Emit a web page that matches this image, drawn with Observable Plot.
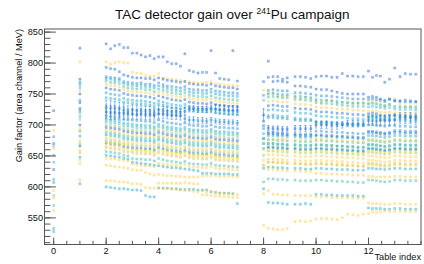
<!DOCTYPE html>
<html><head><meta charset="utf-8">
<script src="https://cdn.jsdelivr.net/npm/d3@7"></script>
<script src="https://cdn.jsdelivr.net/npm/@observablehq/plot@0.6"></script>
<style>html,body{margin:0;padding:0;background:#fff;}</style>
</head><body><div id="chart"></div>
<script>
// Table index positions
const tablesB = [2, 2.17, 2.33, 2.5, 2.67, 2.83, 3, 3.17, 3.33, 3.5, 3.67, 3.83, 4, 4.17, 4.33, 4.5, 4.67, 4.83, 5, 5.17, 5.33, 5.5, 5.67, 5.83, 6, 6.17, 6.33, 6.5, 6.67, 6.83, 7];
const tablesC = [8, 8.18, 8.36, 8.54, 8.72, 8.9, 9.2, 9.4, 9.6, 9.8, 10, 10.2, 10.4, 10.6, 10.8, 11, 11.2, 11.4, 11.6, 11.8, 12, 12.15, 12.3, 12.45, 12.62, 12.8, 13, 13.2, 13.4, 13.6, 13.8];

// gain at table 0 and table 1, one entry per detector
const gainTable0 = [null, null, null, null, 528, null, null, 723, 533, null, null, 681, null, 570, 666, 670, 691, 640, 651, 662, 586, 628, 594, null, 612, 582, null, 562, 607, null, null, null, null];
const gainTable1 = [824, 802, 774, 769, 765, 760, 755, 750, 740, 736, 727, 724, 720, 714, 709, 700, 694, 690, 682, 675, 670, 666, 659, 655, 648, 644, null, 638, 605, 611, null, null, null];

// gain over tables 2-7
const gainB = [
[831,823,828,830,825,825, 816,816,813,810,812,807, 810,810,802,799,799,795, 815,788,786,784,785,785, 820,784,775,774,773,820, 771],
[802,798,801,802,801,800, 785,784,783,780,779,779, 783,776,775,774,773,772, 771,770,769,768,768,769, 770,767,766,765,764,764, 763],
[793,791,790,786,781,779, 777,776,776,775,775,773, 776,774,772,771,770,769, 770,767,766,765,765,764, 766,763,762,761,760,760, 758],
[778,777,776,775,770,769, 768,767,768,766,766,764, 768,765,763,762,761,760, 762,758,757,757,756,756, 758,755,754,753,752,752, 751],
[775,774,772,772,767,765, 764,763,764,762,762,760, 763,761,759,757,756,755, 757,753,752,752,751,751, 753,750,749,748,747,747, 746],
[771,769,768,767,762,760, 759,758,759,757,757,754, 758,756,754,752,751,750, 752,748,747,746,746,745, 747,744,743,742,741,741, 740],
[766,764,763,762,757,755, 754,753,753,752,751,749, 753,751,749,747,746,745, 747,743,742,741,741,740, 742,739,738,737,736,736, 735],
[760,758,757,756,751,749, 748,747,747,746,745,743, 747,745,743,741,740,739, 741,737,736,735,735,734, 736,733,732,731,730,730, 729],
[752,750,749,748,743,741, 740,739,739,738,737,735, 739,737,735,733,732,731, 733,729,728,727,727,726, 728,725,724,723,722,722, 721],
[721,720,720,719,719,718, 718,717,718,717,717,716, 718,718,717,716,716,715, 722,726,726,725,725,725, 726,726,725,725,724,724, 724],
[728,727,727,726,724,722, 724,723,723,722,722,720, 724,723,722,721,721,720, 710,708,708,707,707,706, 708,706,705,705,704,704, 703],
[714,713,712,712,709,708, 708,707,707,706,706,704, 708,706,704,703,702,701, 703,700,699,699,698,698, 700,697,696,696,695,695, 694],
[709,708,707,706,703,702, 701,700,700,699,699,697, 701,699,697,696,695,694, 696,693,692,692,691,691, 693,690,689,689,688,688, 687],
[705,704,703,702,699,698, 697,696,696,695,695,693, 697,695,693,692,691,690, 692,689,688,688,687,687, 689,686,685,685,684,684, 683],
[700,699,698,697,694,693, 692,691,691,690,690,688, 692,690,688,687,686,685, 687,684,683,683,682,682, 684,681,680,680,679,679, 678],
[696,695,694,693,690,689, 688,687,687,686,686,684, 688,686,684,683,682,681, 683,680,679,679,678,678, 680,677,676,676,675,675, 674],
[692,691,690,689,686,685, 684,683,683,682,682,680, 684,682,680,679,678,677, 679,676,675,675,674,674, 676,673,672,672,671,671, 670],
[688,687,686,685,682,681, 680,679,679,678,678,676, 680,678,676,675,674,673, 675,672,671,671,670,670, 672,669,668,668,667,667, 666],
[684,683,682,681,678,677, 676,675,675,674,674,672, 676,674,672,671,670,669, 671,668,667,667,666,666, 668,665,664,664,663,663, 662],
[679,678,677,676,673,672, 671,670,670,669,669,667, 671,669,667,666,665,664, 666,663,662,662,661,661, 663,660,659,659,658,658, 657],
[675,674,673,672,669,668, 667,666,666,665,665,663, 667,665,663,662,661,660, 662,659,658,658,657,657, 659,656,655,655,654,654, 653],
[671,670,669,668,665,664, 663,662,662,661,661,659, 663,661,659,658,657,656, 658,655,654,654,653,653, 655,652,651,651,650,650, 649],
[667,666,665,664,661,660, 659,658,658,657,657,655, 659,657,655,654,653,652, 654,651,650,650,649,649, 651,648,647,647,646,646, 645],
[663,662,661,660,657,656, 655,654,654,653,653,651, 655,653,651,650,649,648, 650,647,646,646,645,645, 647,644,643,643,642,642, 641],
[651,650,649,648,646,645, 640,639,638,637,636,635, 634,633,632,631,631,630, 629,628,627,626,622,622, 622,621,621,621,621,620, 620],
[646,645,645,644,643,642, 637,636,635,634,634,633, 638,637,636,635,635,634, 636,633,632,632,631,631, 633,630,629,629,628,628, 627],
[657,656,655,654,651,650, 646,645,645,644,644,642, 646,644,642,641,640,639, 641,638,637,637,636,636, 638,635,634,634,633,633, 632],
[635,634,633,632,631,630, 628,627,627,623,621,619, 620,619,618,618,617,617, 616,616,616,616,618,618, 618,618,617,617,617,617, 616],
[600,599,598,597,597,596, 595,595,594,586,584,584, 598,598,598,597,597,596, 596,596,596,595,595,595, 592,591,590,590,590,589, 573],
[610,610,609,608,608,607, 605,605,604,599,598,598, 606,606,606,606,606,606, 607,606,605,605,594,592, 592,591,590,590,589,589, 588],
[null,null,null,null,null,null, null,null,null,null,null,null, 599,598,597,597,596,595, 594,594,593,592,587,587, 586,585,585,584,584,583, 583],
[672,671,670,669,668,667, 660,659,659,658,658,656, 661,659,657,656,655,654, 656,653,652,652,651,651, 653,650,649,649,648,648, 647],
[744,743,742,741,737,736, 735,734,734,733,732,730, 734,732,730,728,727,726, 728,724,723,722,722,721, 723,720,719,718,717,717, 716]
];

// gain over tables 8-13.8
const gainC = [
[770,777,778,778,774,776, 778,778,777,775, 778,779,779,777,777, 783,779,779,778,778, 787,777,780,779,769,774, 792,778,783,782,782],
[756,752,752,747,746,747, 745,742,745,742, 739,736,739,739,736, 736,736,736,736,736, 736,738,738,736,731,733, 742,733,731,731,731],
[null,803,770,771,770,769, 763,763,762,761, 758,757,757,755,753, 751,750,750,750,750, 745,746,745,742,738,742, 739,739,740,739,738],
[748,756,757,756,755,755, 752,752,751,750, 748,747,747,746,745, 744,743,742,742,742, 741,742,741,740,740,741, 739,738,737,737,737],
[null,750,751,750,749,749, 746,746,745,744, 741,740,740,739,738, 737,736,735,735,735, 734,735,734,732,731,733, 730,729,729,729,728],
[740,745,746,745,744,744, 741,741,740,739, 736,735,735,734,733, 732,731,730,730,730, 729,730,729,728,727,728, 726,725,725,725,724],
[null,738,739,738,737,737, 734,733,733,732, 729,728,728,727,726, 726,725,724,724,723, 722,723,722,721,720,721, 720,719,719,718,718],
[699,731,732,731,730,730, 727,726,726,725, 722,721,721,720,719, 719,718,717,717,716, 718,719,718,716,714,716, 715,714,714,713,713],
[null,724,725,724,723,723, 720,719,719,718, 715,714,714,713,712, 712,711,710,710,709, 711,712,711,709,707,709, 708,707,707,706,706],
[716,695,694,694,693,693, 694,694,694,694, 700,700,700,699,699, 700,702,702,702,702, 707,707,706,707,708,707, 709,711,711,711,710],
[706,712,712,711,711,710, 708,707,707,707, 704,703,703,702,702, 701,700,699,699,699, 700,701,700,699,698,699, 699,698,698,697,697],
[694,688,688,687,687,686, 686,685,685,685, 690,690,689,689,688, 688,687,687,686,686, 690,690,689,688,687,688, 691,691,690,690,690],
[686,683,683,682,682,681, 681,680,680,680, 682,682,681,681,680, 680,679,679,678,678, 683,683,682,681,680,681, 683,683,682,682,682],
[678,676,676,675,675,674, 674,673,673,673, 675,675,674,674,673, 673,672,672,671,671, 675,675,674,673,672,673, 675,675,674,674,674],
[670,670,670,669,669,668, 668,667,667,667, 668,668,667,667,666, 666,665,665,664,664, 669,669,668,667,666,667, 669,669,668,668,668],
[662,686,686,685,685,684, 684,683,683,683, 684,684,683,683,682, 682,681,681,680,680, 688,688,687,686,685,686, 688,688,687,687,687],
[null,678,678,677,677,676, 676,675,675,675, 677,677,676,676,675, 675,674,674,673,673, 677,677,676,675,674,675, 677,677,676,676,676],
[670,665,665,664,664,663, 663,662,662,662, 663,663,662,662,661, 661,660,660,659,659, 663,663,662,661,660,661, 663,663,662,662,662],
[678,670,670,669,669,668, 668,667,667,667, 668,668,667,667,666, 666,665,665,664,664, 668,668,667,666,665,666, 668,668,667,667,667],
[null,652,652,651,651,650, 650,649,649,649, 650,650,649,649,648, 648,647,647,646,646, 650,650,649,648,647,648, 650,650,649,649,649],
[651,658,658,657,657,656, 656,655,655,655, 656,656,655,655,654, 654,653,653,652,652, 656,656,655,654,653,654, 656,656,655,655,655],
[null,663,663,662,662,661, 661,660,660,660, 661,661,660,660,659, 659,658,658,657,657, 661,661,660,659,658,659, 661,661,660,660,660],
[643,645,645,644,644,643, 643,642,642,642, 643,643,642,642,641, 641,640,640,639,639, 643,643,642,641,640,641, 643,643,642,642,642],
[635,640,640,639,639,638, 638,637,637,637, 638,638,637,637,636, 636,635,635,634,634, 638,638,637,636,635,636, 638,638,637,637,637],
[630,632,632,631,631,630, 630,630,629,629, 630,630,629,629,628, 628,628,627,627,627, 630,630,629,629,628,629, 630,630,629,629,629],
[null,640,640,639,639,638, 637,637,636,636, 637,637,636,636,635, 635,634,634,633,633, 636,636,635,634,633,634, 636,636,635,635,635],
[608,613,613,612,612,611, 611,610,610,610, 611,611,610,610,609, 609,608,608,607,607, 611,611,610,609,608,609, 611,611,610,610,610],
[635,628,628,627,627,626, 626,625,625,625, 622,622,621,621,621, 620,620,619,619,619, 617,617,616,616,616,616, 617,617,616,616,616],
[597,575,574,574,573,572, 572,572,573,572, 588,588,587,587,586, 586,586,586,585,585, 566,565,565,565,564,564, 565,565,564,564,564],
[589,594,588,588,587,587, 586,586,586,586, 584,584,584,583,583, 583,582,582,582,582, 574,573,573,572,572,572, 573,573,572,572,572],
[538,533,532,531,531,533, 544,545,544,545, 548,549,549,548,547, 550,556,555,554,556, 557,560,559,560,561,560, 560,561,560,560,560],
[660,660,660,659,659,658, 658,657,657,657, 658,658,657,657,656, 656,655,655,654,654, 658,658,657,656,655,656, 658,658,657,657,657],
[null,715,716,715,714,714, 711,710,710,709, 706,705,705,704,703, 703,702,701,701,700, 714,715,714,712,711,712, 716,716,715,715,715]
];

// uncertainties (detector 10 and 11)
const errDet10B = [11,11,11,10,10,8, 8,8,8,8,8,8, 8,8,7,7,7,7, 6,5,5,5,5,5, 6,7,7,7,7,7, 7];
const errDet11B = [12,12,11,11,10,9, 8,8,8,8,8,7, 7,7,7,7,7,6, 5,5,5,5,5,4, 4,4,4,4,4,4, 4];
const errDet10C = [10,4,4,4,4,4, 5,5,5,5, 5,6,6,6,6, 5,5,5,5,4, 7,8,8,8,8,8, 9,9,9,9,9];

const detectorTone = ["B1","Y","B1","B2","C","T","Y","B1","C","B1","B2","B2","C","T","G","B1","Y","T","C","Y","G","B1","Y","O","C","Y","T","Y","C","Y","Y","YY","C"];
const tones = {B1:"#0f5cdd", B2:"#1481d6", C:"#06a4ca", T:"#2eb7a4", G:"#87bf77", O:"#d1bb59", Y:"#fec832", YY:"#f9fb0e"};

const xMajor = [0, 2, 4, 6, 8, 10, 12];
const yMajor = [550, 600, 650, 700, 750, 800, 850];
const xMinor = d3.range(0, 14.01, 0.5);
const yMinor = d3.range(510, 851, 10);

// build points
const points = [];
const errs = [];
gainB.forEach((row, i) => {
  const color = tones[detectorTone[i]];
  if (gainTable0[i] != null) points.push({x: 0, y: gainTable0[i], color});
  if (gainTable1[i] != null) points.push({x: 1, y: gainTable1[i], color});
  row.forEach((v, k) => { if (v != null) points.push({x: tablesB[k], y: v, color}); });
  gainC[i].forEach((v, k) => { if (v != null) points.push({x: tablesC[k], y: v, color}); });
});
errDet10B.forEach((e, k) => errs.push({x: tablesB[k], y: gainB[9][k], e, color: tones[detectorTone[9]]}));
errDet11B.forEach((e, k) => errs.push({x: tablesB[k], y: gainB[10][k], e, color: tones[detectorTone[10]]}));
errDet10C.forEach((e, k) => errs.push({x: tablesC[k], y: gainC[9][k], e, color: tones[detectorTone[9]]}));

const tickLine = {draw(context, l) { context.moveTo(0, 0); context.lineTo(0, -l); }};
const axisColor = "#555";
const font = "'Liberation Sans', Arial, Helvetica, sans-serif";

const svg = Plot.plot({
  width: 424, height: 264,
  marginLeft: 44, marginRight: 3.5, marginTop: 28.5, marginBottom: 20,
  style: {fontFamily: font, fontSize: "9.2px", background: "white", color: "#111"},
  x: {domain: [-0.35, 14.0]},
  y: {domain: [507, 855]},
  color: {type: "identity"},
  marks: [
    Plot.ruleX(errs, {x: "x", y1: d => d.y - d.e, y2: d => d.y + d.e, stroke: "color", strokeOpacity: 0.55, strokeWidth: 0.9}),
    Plot.link(errs, {x1: d => d.x - 0.045, x2: d => d.x + 0.045, y1: d => d.y + d.e, y2: d => d.y + d.e, stroke: "color", strokeOpacity: 0.55, strokeWidth: 0.8}),
    Plot.link(errs, {x1: d => d.x - 0.045, x2: d => d.x + 0.045, y1: d => d.y - d.e, y2: d => d.y - d.e, stroke: "color", strokeOpacity: 0.55, strokeWidth: 0.8}),
    Plot.dot(points, {x: "x", y: "y", symbol: "square", r: 1.2, fill: "color", fillOpacity: 0.38, stroke: "color", strokeOpacity: 0.45, strokeWidth: 0.5}),
    Plot.frame({stroke: axisColor, strokeWidth: 1}),
    Plot.vector(yMinor, {y: d => d, frameAnchor: "left", length: 5.5, rotate: 90, anchor: "start", shape: tickLine, stroke: axisColor, strokeWidth: 1}),
    Plot.vector(yMajor, {y: d => d, frameAnchor: "left", length: 11, rotate: 90, anchor: "start", shape: tickLine, stroke: axisColor, strokeWidth: 1}),
    Plot.vector(xMinor, {x: d => d, frameAnchor: "bottom", length: 3.3, rotate: 0, anchor: "start", shape: tickLine, stroke: axisColor, strokeWidth: 1}),
    Plot.vector(xMajor, {x: d => d, frameAnchor: "bottom", length: 6.5, rotate: 0, anchor: "start", shape: tickLine, stroke: axisColor, strokeWidth: 1}),
    Plot.axisY({ticks: yMajor, tickSize: 0, tickPadding: 1.5, label: null, tickFormat: d => d, fontSize: 9.2}),
    Plot.axisX({ticks: xMajor, tickSize: 0, tickPadding: 3, label: null, tickFormat: d => d, fontSize: 9.2}),
    Plot.text(["Table index"], {frameAnchor: "bottom-right", dy: 13, textAnchor: "end", lineAnchor: "middle", fontSize: 9.2, fill: "#111"}),
    Plot.text(["Gain factor (area channel / MeV)"], {frameAnchor: "top-left", dx: -25.5, rotate: -90, textAnchor: "end", lineAnchor: "middle", fontSize: 9.2, fill: "#111"})
  ]
});

const title = d3.select(svg).append("text")
  .attr("x", 232.3).attr("y", 19).attr("text-anchor", "middle")
  .attr("font-family", font).attr("font-size", 13.5).attr("fill", "#111");
title.append("tspan").text("TAC detector gain over ");
title.append("tspan").attr("font-size", 8.5).attr("dy", -5).text("241");
title.append("tspan").attr("dy", 5).text("Pu campaign");

document.getElementById("chart").appendChild(svg);
</script></body></html>
